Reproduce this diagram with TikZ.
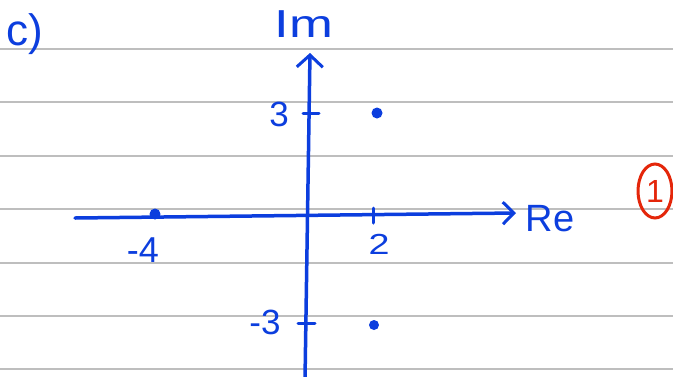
\documentclass[tikz,border=0pt]{standalone}
\usepackage{fontspec}
\setmainfont{Liberation Sans}
\usetikzlibrary{arrows.meta,shapes.geometric}
\definecolor{pen}{RGB}{12,62,222}
\definecolor{redpen}{RGB}{228,38,10}
\definecolor{rulegrey}{RGB}{190,190,190}
\begin{document}
\begin{tikzpicture}[x=1pt,y=-1pt,
  axis/.style={pen, line width=3.5pt, line cap=round},
  tickmark/.style={pen, line width=3pt, line cap=round},
  lbl/.style={text=pen, inner sep=0pt},
  ruleline/.style={rulegrey, line width=1.5pt},
  dotpt/.style={circle, fill=pen, inner sep=0pt, minimum size=#1},
  dotpt/.default=11pt]
\useasboundingbox (0,0) rectangle (673,376);
\fill[white] (0,0) rectangle (673,376);
\foreach \yy in {49,102,156,209,263,316,369} \draw[ruleline] (0,\yy) -- (673,\yy);
% axes
\coordinate (ybot) at (305,380);
\coordinate (ytop) at (310,53);
\coordinate (xl) at (75,218);
\coordinate (xr) at (516,213);
\draw[axis,-{Straight Barb[length=12pt,width=26pt,line width=3pt]}] (ybot) -- (ytop);
\draw[axis,-{Straight Barb[length=11pt,width=22pt,line width=3pt]}] (xl) -- (xr);
% ticks
\coordinate (t3a) at (303,113); \coordinate (t3b) at (319,113);
\coordinate (tm3a) at (298,323); \coordinate (tm3b) at (315,323);
\coordinate (t2a) at (373,208); \coordinate (t2b) at (373,223);
\draw[tickmark] (t3a) -- (t3b);
\draw[tickmark] (tm3a) -- (tm3b);
\draw[tickmark] (t2a) -- (t2b);
% points
\node[dotpt] (pm4) at (155,214) {};
\node[dotpt] (p23) at (377,113) {};
\node[dotpt=10pt] (p2m3) at (374,325) {};
% labels
\node[lbl, font=\fontsize{44}{44}\selectfont] (part) at (25,34) {c)};
\node[lbl, font=\fontsize{39}{39}\selectfont] (im) at (304,24) {\scalebox{1.35}[1]{Im}};
\node[lbl, font=\fontsize{38}{38}\selectfont] (re) at (550,219) {Re};
\node[lbl, font=\fontsize{35}{35}\selectfont] (l3) at (279,114) {3};
\node[lbl, font=\fontsize{35}{35}\selectfont] (lm3) at (265,322) {-3};
\node[lbl, font=\fontsize{36}{36}\selectfont] (lm4) at (143,250) {-4};
\node[lbl, font=\fontsize{29}{29}\selectfont] (l2) at (379,244) {\scalebox{1.3}[1]{2}};
\node[draw=redpen, line width=3pt, ellipse, minimum width=34pt, minimum height=54pt,
      text=redpen, inner sep=0pt, font=\fontsize{32}{32}\selectfont] (mark) at (655,191) {1};
\end{tikzpicture}
\end{document}
